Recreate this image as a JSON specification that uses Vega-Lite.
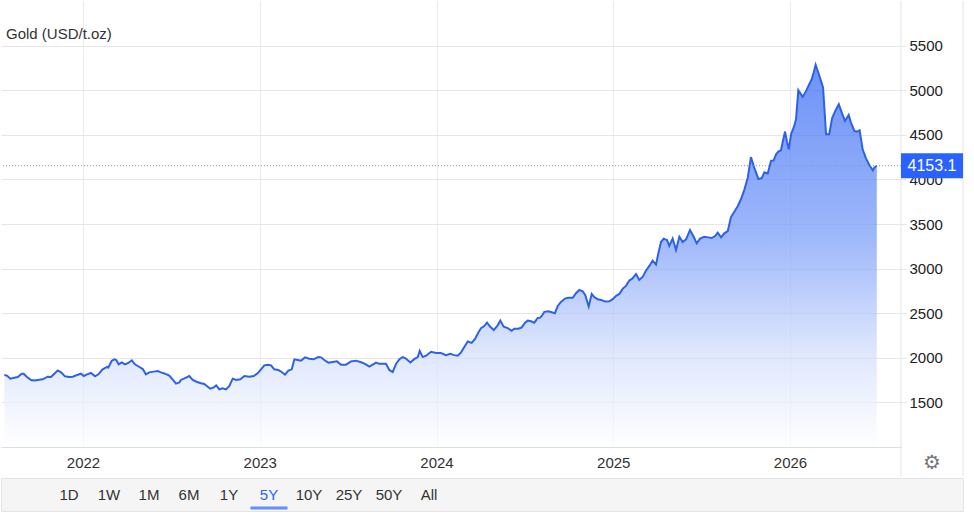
{
  "$schema": "https://vega.github.io/schema/vega-lite/v6.json",
  "padding": 0,
  "spacing": 0,
  "config": {"view": {"stroke": null}, "font": "Liberation Sans"},
  "datasets": {
    "gold": [
      {"year":2021.555,"price":1807},{"year":2021.570,"price":1800},{"year":2021.589,"price":1766},{"year":2021.611,"price":1777},
      {"year":2021.631,"price":1785},{"year":2021.653,"price":1822},{"year":2021.664,"price":1822},{"year":2021.683,"price":1785},
      {"year":2021.706,"price":1751},{"year":2021.724,"price":1747},{"year":2021.753,"price":1755},{"year":2021.772,"price":1759},
      {"year":2021.800,"price":1788},{"year":2021.819,"price":1785},{"year":2021.838,"price":1822},{"year":2021.857,"price":1859},
      {"year":2021.876,"price":1837},{"year":2021.898,"price":1792},{"year":2021.922,"price":1785},{"year":2021.942,"price":1788},
      {"year":2021.966,"price":1807},{"year":2021.989,"price":1822},{"year":2022.004,"price":1796},{"year":2022.023,"price":1815},
      {"year":2022.045,"price":1830},{"year":2022.068,"price":1792},{"year":2022.087,"price":1815},{"year":2022.111,"price":1871},
      {"year":2022.136,"price":1897},{"year":2022.143,"price":1889},{"year":2022.162,"price":1964},{"year":2022.177,"price":1983},
      {"year":2022.188,"price":1975},{"year":2022.202,"price":1927},{"year":2022.219,"price":1949},{"year":2022.238,"price":1927},
      {"year":2022.256,"price":1942},{"year":2022.276,"price":1972},{"year":2022.294,"price":1927},{"year":2022.319,"price":1897},
      {"year":2022.338,"price":1874},{"year":2022.356,"price":1815},{"year":2022.375,"price":1837},{"year":2022.400,"price":1845},
      {"year":2022.423,"price":1852},{"year":2022.441,"price":1837},{"year":2022.464,"price":1822},{"year":2022.488,"price":1800},
      {"year":2022.508,"price":1755},{"year":2022.526,"price":1710},{"year":2022.545,"price":1725},{"year":2022.554,"price":1752},
      {"year":2022.577,"price":1773},{"year":2022.601,"price":1796},{"year":2022.621,"price":1751},{"year":2022.645,"price":1729},
      {"year":2022.668,"price":1714},{"year":2022.686,"price":1706},{"year":2022.706,"price":1676},{"year":2022.720,"price":1654},
      {"year":2022.740,"price":1669},{"year":2022.754,"price":1691},{"year":2022.771,"price":1646},{"year":2022.790,"price":1658},
      {"year":2022.809,"price":1646},{"year":2022.828,"price":1684},{"year":2022.847,"price":1766},{"year":2022.866,"price":1751},
      {"year":2022.890,"price":1759},{"year":2022.913,"price":1796},{"year":2022.941,"price":1788},{"year":2022.966,"price":1796},
      {"year":2022.988,"price":1826},{"year":2023.007,"price":1871},{"year":2023.026,"price":1915},{"year":2023.045,"price":1923},
      {"year":2023.064,"price":1915},{"year":2023.082,"price":1871},{"year":2023.105,"price":1863},{"year":2023.124,"price":1841},
      {"year":2023.143,"price":1811},{"year":2023.162,"price":1856},{"year":2023.181,"price":1871},{"year":2023.196,"price":1983},
      {"year":2023.215,"price":1975},{"year":2023.233,"price":1968},{"year":2023.256,"price":2005},{"year":2023.280,"price":1990},
      {"year":2023.305,"price":1983},{"year":2023.331,"price":2009},{"year":2023.347,"price":2005},{"year":2023.365,"price":1975},
      {"year":2023.388,"price":1945},{"year":2023.413,"price":1953},{"year":2023.437,"price":1960},{"year":2023.460,"price":1923},
      {"year":2023.488,"price":1923},{"year":2023.516,"price":1960},{"year":2023.545,"price":1968},{"year":2023.573,"price":1950},
      {"year":2023.595,"price":1932},{"year":2023.620,"price":1902},{"year":2023.639,"price":1924},{"year":2023.658,"price":1947},
      {"year":2023.676,"price":1932},{"year":2023.696,"price":1932},{"year":2023.714,"price":1932},{"year":2023.733,"price":1864},
      {"year":2023.752,"price":1841},{"year":2023.771,"price":1932},{"year":2023.790,"price":1985},{"year":2023.809,"price":2008},
      {"year":2023.827,"price":1992},{"year":2023.852,"price":1947},{"year":2023.874,"price":1985},{"year":2023.894,"price":2008},
      {"year":2023.905,"price":2076},{"year":2023.922,"price":2008},{"year":2023.941,"price":2023},{"year":2023.969,"price":2068},
      {"year":2023.997,"price":2053},{"year":2024.025,"price":2053},{"year":2024.054,"price":2030},{"year":2024.078,"price":2045},
      {"year":2024.101,"price":2030},{"year":2024.120,"price":2023},{"year":2024.139,"price":2061},{"year":2024.157,"price":2121},
      {"year":2024.177,"price":2182},{"year":2024.199,"price":2167},{"year":2024.218,"price":2212},{"year":2024.236,"price":2280},
      {"year":2024.252,"price":2333},{"year":2024.270,"price":2356},{"year":2024.286,"price":2394},{"year":2024.304,"price":2348},
      {"year":2024.324,"price":2311},{"year":2024.346,"price":2364},{"year":2024.361,"price":2417},{"year":2024.380,"price":2348},
      {"year":2024.403,"price":2333},{"year":2024.425,"price":2303},{"year":2024.440,"price":2326},{"year":2024.463,"price":2326},
      {"year":2024.482,"price":2341},{"year":2024.501,"price":2394},{"year":2024.516,"price":2417},{"year":2024.535,"price":2409},
      {"year":2024.553,"price":2394},{"year":2024.573,"price":2447},{"year":2024.587,"price":2450},{"year":2024.601,"price":2485},
      {"year":2024.610,"price":2515},{"year":2024.633,"price":2522},{"year":2024.657,"price":2507},{"year":2024.670,"price":2500},
      {"year":2024.686,"price":2582},{"year":2024.704,"price":2627},{"year":2024.727,"price":2664},{"year":2024.746,"price":2672},
      {"year":2024.771,"price":2672},{"year":2024.789,"price":2724},{"year":2024.808,"price":2761},{"year":2024.827,"price":2746},
      {"year":2024.842,"price":2701},{"year":2024.861,"price":2575},{"year":2024.878,"price":2716},{"year":2024.893,"price":2679},
      {"year":2024.912,"price":2657},{"year":2024.931,"price":2649},{"year":2024.953,"price":2631},{"year":2024.978,"price":2634},
      {"year":2024.997,"price":2657},{"year":2025.016,"price":2694},{"year":2025.034,"price":2716},{"year":2025.054,"price":2776},
      {"year":2025.072,"price":2806},{"year":2025.091,"price":2866},{"year":2025.110,"price":2892},{"year":2025.129,"price":2940},
      {"year":2025.147,"price":2873},{"year":2025.167,"price":2910},{"year":2025.185,"price":2977},{"year":2025.204,"price":3030},
      {"year":2025.223,"price":3089},{"year":2025.242,"price":3045},{"year":2025.255,"price":3171},{"year":2025.270,"price":3298},
      {"year":2025.285,"price":3336},{"year":2025.304,"price":3321},{"year":2025.317,"price":3254},{"year":2025.336,"price":3336},
      {"year":2025.355,"price":3209},{"year":2025.374,"price":3358},{"year":2025.393,"price":3298},{"year":2025.412,"price":3328},
      {"year":2025.434,"price":3432},{"year":2025.453,"price":3365},{"year":2025.472,"price":3283},{"year":2025.491,"price":3336},
      {"year":2025.515,"price":3358},{"year":2025.538,"price":3350},{"year":2025.557,"price":3343},{"year":2025.576,"price":3365},
      {"year":2025.591,"price":3403},{"year":2025.610,"price":3350},{"year":2025.628,"price":3395},{"year":2025.648,"price":3421},
      {"year":2025.666,"price":3578},{"year":2025.685,"price":3638},{"year":2025.704,"price":3700},{"year":2025.723,"price":3780},
      {"year":2025.741,"price":3880},{"year":2025.761,"price":4019},{"year":2025.779,"price":4250},{"year":2025.798,"price":4130},
      {"year":2025.821,"price":4005},{"year":2025.840,"price":4015},{"year":2025.855,"price":4080},{"year":2025.874,"price":4066},
      {"year":2025.893,"price":4210},{"year":2025.908,"price":4213},{"year":2025.921,"price":4281},{"year":2025.934,"price":4311},
      {"year":2025.949,"price":4326},{"year":2025.959,"price":4423},{"year":2025.972,"price":4536},{"year":2025.983,"price":4423},
      {"year":2025.993,"price":4337},{"year":2026.006,"price":4506},{"year":2026.024,"price":4599},{"year":2026.034,"price":4674},
      {"year":2026.047,"price":5000},{"year":2026.072,"price":4925},{"year":2026.091,"price":4992},{"year":2026.109,"price":5067},
      {"year":2026.123,"price":5124},{"year":2026.134,"price":5198},{"year":2026.145,"price":5285},{"year":2026.160,"price":5198},
      {"year":2026.175,"price":5105},{"year":2026.187,"price":5030},{"year":2026.204,"price":4506},{"year":2026.222,"price":4506},
      {"year":2026.238,"price":4685},{"year":2026.256,"price":4768},{"year":2026.276,"price":4843},{"year":2026.293,"price":4749},
      {"year":2026.311,"price":4655},{"year":2026.332,"price":4723},{"year":2026.345,"price":4637},{"year":2026.364,"price":4543},
      {"year":2026.379,"price":4536},{"year":2026.394,"price":4551},{"year":2026.411,"price":4337},{"year":2026.430,"price":4236},
      {"year":2026.449,"price":4161},{"year":2026.468,"price":4101},{"year":2026.477,"price":4131},{"year":2026.491,"price":4153.1}
    ],
    "buttons": [
      {"label":"1D","selected":false},{"label":"1W","selected":false},{"label":"1M","selected":false},
      {"label":"6M","selected":false},{"label":"1Y","selected":false},{"label":"5Y","selected":true},
      {"label":"10Y","selected":false},{"label":"25Y","selected":false},{"label":"50Y","selected":false},
      {"label":"All","selected":false}
    ]
  },
  "vconcat": [
    {
      "width": 900,
      "height": 446,
      "title": {"text": "Gold (USD/t.oz)", "anchor": "start", "frame": "group", "offset": -48, "baseline": "middle", "dx": 5, "fontSize": 15, "fontWeight": "normal", "color": "#333333", "font": "Liberation Sans"},
      "data": {"name": "gold"},
      "layer": [
        {
          "mark": {
            "type": "area",
            "line": {"color": "#2e62e6", "strokeWidth": 2},
            "color": {"gradient": "linear", "x1": 1, "y1": 1, "x2": 1, "y2": 0, "stops": [{"offset": 0, "color": "#ffffff"}, {"offset": 0.25, "color": "#d0dcfc"}, {"offset": 0.55, "color": "#7499f8"}, {"offset": 1, "color": "#2f63f5"}]}
          },
          "encoding": {
            "x": {"field": "year", "type": "quantitative",
              "scale": {"domain": [2021.536, 2026.628], "nice": false, "zero": false},
              "axis": {"values": [2022, 2023, 2024, 2025, 2026], "format": "d", "title": null, "grid": true, "gridColor": "#ebebeb", "domainColor": "#dedede", "ticks": false, "tickSize": 0, "labelPadding": 8, "labelFontSize": 15, "labelColor": "#333333", "labelFont": "Liberation Sans"}},
            "y": {"field": "price", "type": "quantitative",
              "scale": {"domain": [1000, 6000], "nice": false, "zero": false},
              "axis": {"orient": "right", "values": [1500, 2000, 2500, 3000, 3500, 4000, 4500, 5000, 5500], "format": "d", "title": null, "grid": true, "gridColor": "#e6e6e6", "domain": false, "tickColor": "#e6e6e6", "tickSize": 5, "labelPadding": 3, "labelAlign": "left", "labelFontSize": 15, "labelColor": "#222222", "labelFont": "Liberation Sans"}},
            "y2": {"datum": 1000}
          }
        },
        {
          "transform": [{"filter": "datum.year >= 2026.49"}],
          "mark": {"type": "rule", "color": "#e3e3e3", "y2Offset": 29},
          "encoding": {"x": {"datum": 2026.628, "type": "quantitative"}, "y": {"datum": 6000, "type": "quantitative"}, "y2": {"datum": 1000}}
        },
        {
          "transform": [{"filter": "datum.year >= 2026.49"}],
          "mark": {"type": "rule", "color": "#e3e3e3", "xOffset": 62, "y2Offset": 29},
          "encoding": {"x": {"datum": 2026.628, "type": "quantitative"}, "y": {"datum": 6000, "type": "quantitative"}, "y2": {"datum": 1000}}
        },
        {
          "transform": [{"filter": "datum.year >= 2026.49"}],
          "mark": {"type": "rule", "color": "#7f95b8", "strokeDash": [1, 2], "strokeWidth": 1},
          "encoding": {"y": {"field": "price", "type": "quantitative"}}
        },
        {
          "transform": [{"filter": "datum.year >= 2026.49"}],
          "mark": {"type": "rect", "color": "#2962ff", "yOffset": -12.5, "y2Offset": 12.5, "x2Offset": 62},
          "encoding": {"x": {"datum": 2026.628, "type": "quantitative"}, "x2": {"datum": 2026.628}, "y": {"field": "price", "type": "quantitative"}, "y2": {"field": "price"}}
        },
        {
          "transform": [{"filter": "datum.year >= 2026.49"}],
          "mark": {"type": "text", "color": "#ffffff", "fontSize": 16, "align": "center", "baseline": "middle", "dx": 31, "font": "Liberation Sans"},
          "encoding": {"x": {"datum": 2026.628, "type": "quantitative"}, "y": {"field": "price", "type": "quantitative"}, "text": {"field": "price", "type": "quantitative", "format": ".1f"}}
        },
        {
          "transform": [{"filter": "datum.year >= 2026.49"}],
          "mark": {"type": "text", "text": "⚙", "color": "#777777", "fontSize": 20, "align": "center", "baseline": "middle", "dx": 31, "dy": 16, "font": "DejaVu Sans"},
          "encoding": {"x": {"datum": 2026.628, "type": "quantitative"}, "y": {"datum": 1000, "type": "quantitative"}}
        }
      ]
    },
    {
      "width": 962,
      "height": 33,
      "view": {"fill": "#f5f5f5", "stroke": "#e3e3e3"},
      "data": {"name": "buttons"},
      "layer": [
        {
          "mark": {"type": "text", "fontSize": 15, "baseline": "middle", "align": "center", "font": "Liberation Sans"},
          "encoding": {
            "x": {"field": "label", "type": "nominal", "sort": null, "scale": {"type": "point", "range": [68, 428], "padding": 0}, "axis": null},
            "y": {"datum": 0.485, "type": "quantitative", "scale": {"domain": [0, 1]}, "axis": null},
            "text": {"field": "label"},
            "color": {"condition": {"test": "datum.selected", "value": "#2962ff"}, "value": "#333333"}
          }
        },
        {
          "transform": [{"filter": "datum.selected"}],
          "mark": {"type": "tick", "orient": "horizontal", "size": 37, "thickness": 3, "color": "#2962ff"},
          "encoding": {
            "x": {"field": "label", "type": "nominal", "sort": null},
            "y": {"datum": 0.09, "type": "quantitative"}
          }
        }
      ]
    }
  ]
}
